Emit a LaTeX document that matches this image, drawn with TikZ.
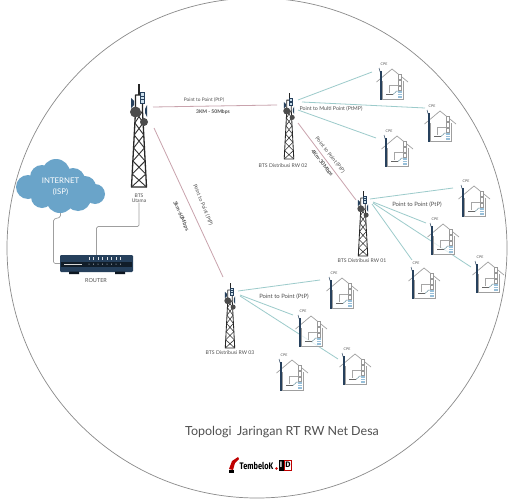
\documentclass[tikz,border=0pt]{standalone}
\usepackage{fontspec}
\setmainfont{Lato}
\newfontfamily\logofont{Fira Sans}
\definecolor{pinkline}{HTML}{C9A3AD}
\definecolor{tealline}{HTML}{9CCBCB}
\definecolor{rimgray}{HTML}{8A8A8A}
\definecolor{txt}{HTML}{505050}
\definecolor{navy}{HTML}{26405C}
\definecolor{cloudblue}{HTML}{6AA4C9}
\tikzset{
  x=1pt,y=-1pt,
  pink link/.style={pinkline,line width=.8pt},
  teal link/.style={tealline,line width=.8pt},
  wire/.style={draw=gray!75,line width=.7pt,rounded corners=1.5pt},
  lab/.style={inner sep=0pt,text=txt,font=\fontsize{#1}{#1}\selectfont,align=center},
  lab/.default=5,
  pics/tower/.style={code={
    \draw[line width=#1,black!85] (0,-92) -- (0,-103);
    \draw[line width=#1,black!85,line join=round] (-7.5,0) -- (-3.5,-76) -- (-3.5,-92) -- (3.5,-92) -- (3.5,-76) -- (7.5,0) -- cycle;
    \foreach \ya/\wa/\yb/\wb in {0/7.5/-13/6.8,-13/6.8/-26/6.1,-26/6.1/-39/5.4,-39/5.4/-52/4.8,-52/4.8/-64/4.1,-64/4.1/-76/3.5}{
      \draw[line width=.7*#1,black!80] (-\wa,\ya) -- (\wb,\yb) (\wa,\ya) -- (-\wb,\yb);
    }
    \draw[navy,line width=.6*#1,fill=cloudblue!35] (1,-95) rectangle (5,-84);
    \draw[navy,line width=.6*#1] (1,-91) -- (5,-91) (1,-88) -- (5,-88);
    \fill[navy] (-8,-89) -- (-5,-86) -- (-5,-82) -- (-8,-79) -- cycle;
    \fill[navy] (8,-82) -- (6,-78) -- (6,-74) -- (8,-70) -- cycle;
    \fill[black!70] (-3.5,-75) circle (5.5);
    \fill[black!70] (5,-65) circle (4);
  }},
  pics/house/.style={code={
    \node[lab=3.6] (#1cpe) at (-8,-5) {CPE};
    \draw[gray!75,line width=.6pt,fill=white,fill opacity=.75] (-10,12) -- (-10,30) -- (11,30) -- (11,12);
    \draw[gray!75,line width=.7pt] (-15.5,13) -- (0,0) -- (16,13);
    \draw[gray!70,line width=.35pt] (7,12) -- (7,16) -- (-3,16) -- (-3,24);
    \draw[gray!80,fill=white,line width=.3pt] (6,5) rectangle (9.5,10);
    \draw[gray!80,fill=white,line width=.3pt] (6,11) rectangle (9.5,16);
    \draw[gray!80,fill=white,line width=.3pt] (6,17) rectangle (9.5,21);
    \draw[black!60,line width=.9pt] (-6,25.5) -- (1,25.5);
    \draw[tealline!60!navy,line width=.5pt] (1,25.5) .. controls (4,25) and (3,21) .. (6,22);
    \fill[cloudblue!70] (5.5,22) rectangle (10,28.5);
    \draw[white,line width=.3pt] (6,24) -- (9.5,24) (6,26) -- (9.5,26);
    \draw[navy,line width=1.1pt] (-11,2) -- (-11,31);
    \draw[navy,line width=.5pt] (-13,-1) -- (-11.5,4);
  }}
}
\begin{document}
\begin{tikzpicture}
\useasboundingbox (0,0) rectangle (510,500);
\fill[white] (0,0) rectangle (510,500);
\node[circle,draw=rimgray,line width=.7pt,minimum size=500pt,inner sep=0pt] (rim) at (257,248) {};

\foreach \n/\x/\y in {
 pa/153/107, pb/277/105, pc/154/128, pd/223/277, pe/298/123, pf/356/200,
 ta/298/100, tb/372/72, tc/302/102, td/425/108, te/298/110, tf/376/138,
 ua/370/199, ub/453/188, uc/373/202, ud/426/223, ue/373/203, uf/471/267, ug/372/204, uh/412/260,
 va/238/291, vb/320/280, vc/240/295, vd/293/315, ve/240/296, vf/338/359}
  {\coordinate (\n) at (\x,\y);}

\draw[pink link] (pa) -- (pb);
\draw[pink link] (pc) -- (pd);
\draw[pink link] (pe) -- (pf);
\draw[teal link] (ta) -- (tb);
\draw[teal link] (tc) -- (td);
\draw[teal link] (te) -- (tf);
\draw[teal link] (ua) -- (ub);
\draw[teal link] (uc) -- (ud);
\draw[teal link] (ue) -- (uf);
\draw[teal link] (ug) -- (uh);
\draw[teal link] (va) -- (vb);
\draw[teal link] (vc) -- (vd);
\draw[teal link] (ve) -- (vf);

\pic (tw0) at (139,187) {tower=1.3pt};
\pic[scale=.64] (tw2) at (289,159) {tower=.85pt};
\pic[scale=.63] (tw1) at (363,256) {tower=.85pt};
\pic[scale=.63] (tw3) at (230,348) {tower=.85pt};

\foreach \n/\x/\y in {h1/392/69,h2/440/111,h3/397/136,h4/474/186,h5/443/224,h6/488/262,h7/424/268,h8/342/278,h9/311/316,h10/355/354,h11/292/360}
  {\pic at (\x,\y) {house=\n};}

\foreach \x/\y/\r in {28/187/12,42/177/12,56/173/14,73/180/12,85/187/11,95/194/10,78/198/13,60/199/14,42/197/11,55/187/16}
  {\fill[cloudblue] (\x,\y) circle (\r);}
\node[inner sep=0pt,minimum width=89pt,minimum height=52pt,text=white,align=center,font=\fontsize{7.8}{10.5}\selectfont] (isp) at (60.5,187) {INTERNET\\(ISP)};

\node[rounded corners=1.2pt,fill=navy,minimum width=73pt,minimum height=17pt,inner sep=0pt] (router) at (96.5,263.5) {};
\fill[black!65!navy] (69,271.5) rectangle (79,274) (115,271.5) rectangle (125,274);
\fill[black!55!navy] (61,261.5) rectangle (132,267);
\draw[gray!30,line width=.6pt] (64,264) -- (82,264);
\foreach \k in {0,...,7}{
  \fill[white!85!navy] ({88.5+4.5*\k},256.5) rectangle ({89.7+4.5*\k},259.5);
  \fill[white!85!navy] ({89+4.5*\k},264) circle (.5);
}
\node[lab=5.5] (routerlab) at (96,281) {ROUTER};

\node[lab=5] (utama) at (139,198) {\fontsize{5}{8}\selectfont BTS\\Utama};
\node[lab=5.1] (l2) at (283,166) {BTS Distribusi RW 02};
\node[lab=5.1] (l1) at (362,261) {BTS Distribusi RW 01};
\node[lab=5.1] (l3) at (230,353) {BTS Distribusi RW 03};

\draw[wire] (isp.south) -- ++(0,4) -- ++(-7,2) |- (router.west);
\draw[wire] (utama.south) -- ++(0,24) -| (router.north);

\node[lab=4.8] (t1) at (204,100) {Point to Point (PtP)};
\node[lab=5,font=\fontsize{5}{5}\selectfont\bfseries] (t2) at (213,112) {3KM - 50Mbps};
\node[lab=5.3] (t3) at (331,109) {Point to Multi Point (PtMP)};
\node[lab=5.3,rotate=-52] (t4) at (330,155) {Point to Point (PtP)};
\node[lab=5.3,rotate=-52,font=\fontsize{5.3}{5}\selectfont\bfseries] (t5) at (322,163) {4Km-30Mbps};
\node[lab=5.3,rotate=-68] (t6) at (203,205) {Point to Point (PtP)};
\node[lab=5.3,rotate=-66,font=\fontsize{5.3}{5}\selectfont\bfseries] (t7) at (181,216) {3km-60Mbps};
\node[lab=5.9] (t8) at (417,205) {Point to Point (PtP)};
\node[lab=5.9] (t9) at (284,297) {Point to Point (PtP)};

\node[lab=12.5] (title) at (282,432) {Topologi\, Jaringan RT RW Net Desa};
\fill[red!75!black] (229,469) -- (232,461) -- (238,457) -- (239,459) -- (235,463) -- (233,470) -- cycle;
\fill[black] (229,470) rectangle (234,473);
\node[inner sep=0pt,font=\logofont\bfseries\fontsize{9.5}{9.5}\selectfont,text=black] (logo) at (256.5,465.5) {\scalebox{.78}[1]{TembeloK}};
\fill[red!80!black] (276.5,468.5) circle (1.3);
\node[fill=black,text=white,inner sep=0pt,minimum width=5pt,minimum height=11pt,font=\logofont\bfseries\fontsize{8}{8}\selectfont] (logoi) at (281,465) {I};
\node[draw=red!75!black,fill=white,line width=.8pt,text=black,inner sep=0pt,minimum width=7pt,minimum height=10pt,font=\logofont\bfseries\fontsize{8}{8}\selectfont] (logod) at (288,465) {D};
\end{tikzpicture}
\end{document}
